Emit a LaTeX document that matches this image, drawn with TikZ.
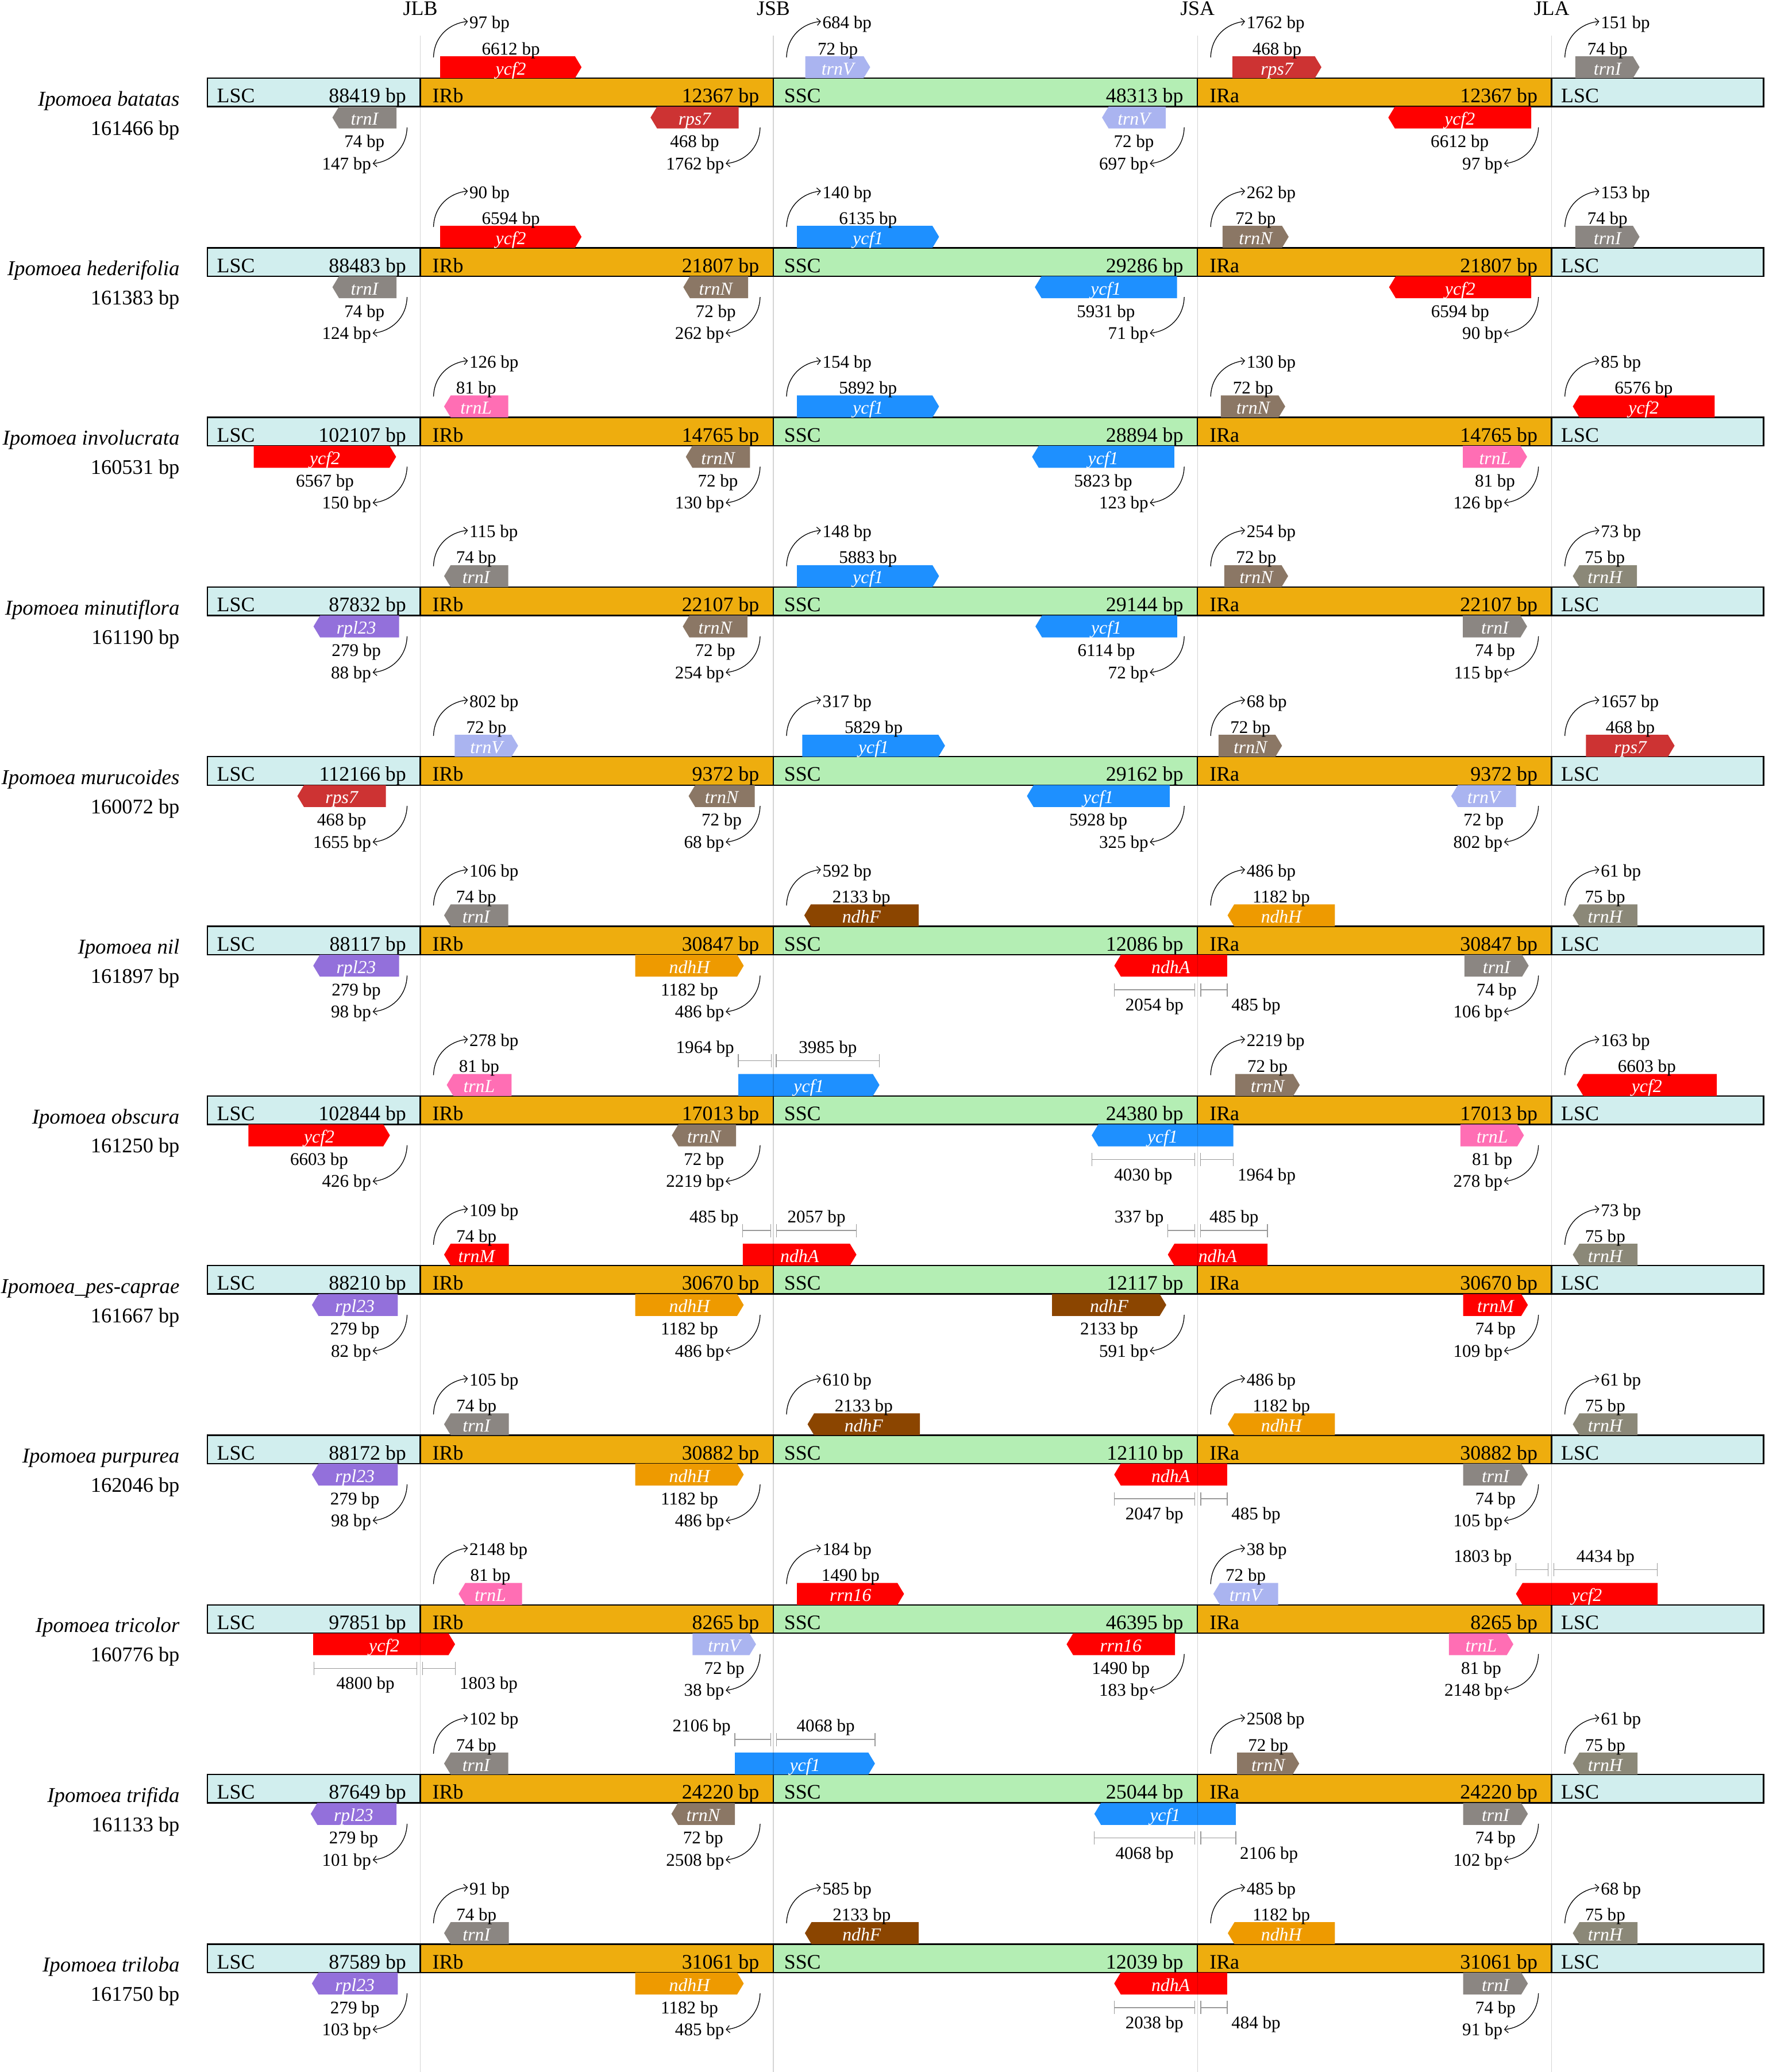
\documentclass[tikz,border=0pt]{standalone}
\usepackage{fontspec}
\setmainfont{Liberation Serif}
\usetikzlibrary{arrows.meta,calc}

\definecolor{lsc}{HTML}{D1EEEE}
\definecolor{irc}{HTML}{EEAD0E}
\definecolor{ssc}{HTML}{B4EEB4}
\definecolor{cycf2}{HTML}{FF0000}
\definecolor{crps7}{HTML}{CD3333}
\definecolor{ctrnI}{HTML}{8B8682}
\definecolor{ctrnH}{HTML}{8B8878}
\definecolor{ctrnV}{HTML}{AAB4F0}
\definecolor{ctrnN}{HTML}{8B7765}
\definecolor{cycf1}{HTML}{1E90FF}
\definecolor{ctrnL}{HTML}{FF6EB4}
\definecolor{crpl23}{HTML}{9370DB}
\definecolor{cndhH}{HTML}{EE9A00}
\definecolor{cndhF}{HTML}{8B4500}
\definecolor{cndhA}{HTML}{FF0000}
\definecolor{ctrnM}{HTML}{FF0000}
\definecolor{crrn}{HTML}{FF0000}

\def\JLB{318}
\def\JSB{585.1}
\def\JSA{906}
\def\JLA{1174}
\newcommand\yc{0}
\newcounter{nid}

\tikzset{
  lbl/.style={inner sep=0pt, font=\fontsize{13.5}{13.5}\selectfont},
  barlbl/.style={inner sep=0pt, font=\fontsize{15.6}{15.6}\selectfont},
  sp/.style={inner sep=0pt, font=\fontsize{16}{16}\selectfont\itshape},
  tot/.style={inner sep=0pt, font=\fontsize{15.8}{15.8}\selectfont},
  hdr/.style={inner sep=0pt, font=\fontsize{15.6}{15.6}\selectfont},
  gname/.style={inner sep=0pt, text=white, font=\fontsize{13.8}{13.8}\selectfont\itshape},
  carrow/.style={line width=0.55pt, -{Straight Barb[length=2.6pt,width=5.5pt]}},
  brkline/.style={draw=black!40, line width=0.55pt},
  guide/.style={draw=black, opacity=0.17, line width=0.5pt},
  barline/.style={draw=black, line width=1.05pt},
}

% gene shape: #1 x1, #2 x2, #3 ytop, #4 ybot, #5 dir, #6 colour
\newcommand\gshape[6]{%
  \if#5R
    \fill[#6] (#1,#3) -- ({#2-5},#3) -- (#2,{(#3+#4)/2}) -- ({#2-5},#4) -- (#1,#4) -- cycle;
  \else
    \fill[#6] ({#1+5},#3) -- (#2,#3) -- (#2,#4) -- ({#1+5},#4) -- (#1,{(#3+#4)/2}) -- cycle;
  \fi}

% gene above the bar without size label
\newcommand\gAx[5]{%
  \stepcounter{nid}\edef\nn{\arabic{nid}}%
  \pgfmathsetmacro\gt{\yc-27.35}\pgfmathsetmacro\gb{\yc-10.75}%
  \gshape{#1}{#2}{\gt}{\gb}{#3}{#4}%
  \node[gname,anchor=base] (gn\nn) at ({(#1+#2)/2},{\gb-2.6}) {#5};}
\newcommand\gBx[5]{%
  \stepcounter{nid}\edef\nn{\arabic{nid}}%
  \pgfmathsetmacro\gt{\yc+10.75}\pgfmathsetmacro\gb{\yc+27.35}%
  \gshape{#1}{#2}{\gt}{\gb}{#3}{#4}%
  \node[gname,anchor=base] (gn\nn) at ({(#1+#2)/2},{\gb-2.6}) {#5};}
% gene with size label
\newcommand\gA[6]{\gAx{#1}{#2}{#3}{#4}{#5}%
  \node[lbl,anchor=base] (gs\nn) at ({(#1+#2)/2},{\yc-28.6}) {#6};}
\newcommand\gB[6]{\gBx{#1}{#2}{#3}{#4}{#5}%
  \node[lbl,anchor=base] (gs\nn) at ({(#1+#2)/2},{\yc+41.7}) {#6};}

% curved arrows at a junction
\newcommand\arA[2]{%
  \stepcounter{nid}\edef\nn{\arabic{nid}}%
  \coordinate (ac\nn) at ({#1+10},{\yc-26.5});
  \node[lbl,anchor=base west] (at\nn) at ({#1+37},{\yc-48.2}) {#2};
  \coordinate (ae\nn) at ([xshift=-1pt,yshift=5.5pt]at\nn.base west);
  \draw[carrow] (ac\nn) .. controls ($(ac\nn)+(0.5,-16)$) and ($(ae\nn)+(-14,1.5)$) .. (ae\nn);}
\newcommand\arB[2]{%
  \stepcounter{nid}\edef\nn{\arabic{nid}}%
  \coordinate (ac\nn) at ({#1-10},{\yc+26.5});
  \node[lbl,anchor=base east] (at\nn) at ({#1-37},{\yc+58.4}) {#2};
  \coordinate (ae\nn) at ([xshift=1pt,yshift=4.5pt]at\nn.base east);
  \draw[carrow] (ac\nn) .. controls ($(ac\nn)+(-0.5,16)$) and ($(ae\nn)+(14,-1.5)$) .. (ae\nn);}

% brackets: #1 x1, #2 x2, #3 y of line
\newcommand\brk[3]{%
  \draw[brkline] (#1,#3) -- (#2,#3) (#1,{#3-5}) -- (#1,{#3+5}) (#2,{#3-5}) -- (#2,{#3+5});}
% above brackets: #1 x1 #2 x2 #3 label placement (c/l/r) #4 text
\newcommand\brA[4]{%
  \stepcounter{nid}\edef\nn{\arabic{nid}}%
  \brk{#1}{#2}{\yc-37.3}%
  \if#3c\node[lbl,anchor=base] (bl\nn) at ({(#1+#2)/2},{\yc-43.1}) {#4};\fi
  \if#3l\node[lbl,anchor=base east] (bl\nn) at ({#1-3},{\yc-43.1}) {#4};\fi
  \if#3r\node[lbl,anchor=base west] (bl\nn) at ({#2+3},{\yc-43.1}) {#4};\fi}
\newcommand\brB[4]{%
  \stepcounter{nid}\edef\nn{\arabic{nid}}%
  \brk{#1}{#2}{\yc+37.3}%
  \if#3c\node[lbl,anchor=base] (bl\nn) at ({(#1+#2)/2},{\yc+53.2}) {#4};\fi
  \if#3l\node[lbl,anchor=base east] (bl\nn) at ({#1-3},{\yc+53.2}) {#4};\fi
  \if#3r\node[lbl,anchor=base west] (bl\nn) at ({#2+3},{\yc+53.2}) {#4};\fi}

% row bar: #1 yc, #2 species, #3 total, #4 LSC, #5 IR, #6 SSC, #7 id
\newcommand\rowbar[7]{%
  \def\yc{#1}%
  \pgfmathsetmacro\bt{#1-10.75}\pgfmathsetmacro\bb{#1+10.75}%
  \fill[lsc] (157,\bt) rectangle (\JLB,\bb);
  \fill[irc] (\JLB,\bt) rectangle (\JSB,\bb);
  \fill[ssc] (\JSB,\bt) rectangle (\JSA,\bb);
  \fill[irc] (\JSA,\bt) rectangle (\JLA,\bb);
  \fill[lsc] (\JLA,\bt) rectangle (1334.4,\bb);
  \draw[barline] (157,\bt) rectangle (1334.4,\bb);
  \draw[barline] (\JLB,\bt) -- (\JLB,\bb) (\JSB,\bt) -- (\JSB,\bb) (\JSA,\bt) -- (\JSA,\bb) (\JLA,\bt) -- (\JLA,\bb);
  \node[sp,anchor=base east] (sp#7) at (136,{#1+10.2}) {#2};
  \node[tot,anchor=base east] (tl#7) at (136,{#1+32.3}) {#3};
  \node[barlbl,anchor=base west] (l1#7) at (164,{#1+7.8}) {LSC};
  \node[barlbl,anchor=base east] (v1#7) at ({\JLB-10.5},{#1+7.8}) {#4 bp};
  \node[barlbl,anchor=base west] (l2#7) at ({\JLB+9},{#1+7.8}) {IRb};
  \node[barlbl,anchor=base east] (v2#7) at ({\JSB-10.5},{#1+7.8}) {#5 bp};
  \node[barlbl,anchor=base west] (l3#7) at ({\JSB+8},{#1+7.8}) {SSC};
  \node[barlbl,anchor=base east] (v3#7) at ({\JSA-10.5},{#1+7.8}) {#6 bp};
  \node[barlbl,anchor=base west] (l4#7) at ({\JSA+9},{#1+7.8}) {IRa};
  \node[barlbl,anchor=base east] (v4#7) at ({\JLA-10.5},{#1+7.8}) {#5 bp};
  \node[barlbl,anchor=base west] (l5#7) at ({\JLA+7},{#1+7.8}) {LSC};}

\begin{document}
\begin{tikzpicture}[x=1pt,y=-1pt]
\useasboundingbox (0,0) rectangle (1335,1568);
\fill[white] (0,0) rectangle (1335,1568);

\node[hdr,anchor=base] (hJLB) at (\JLB,11.5) {JLB};
\node[hdr,anchor=base] (hJSB) at (\JSB,11.5) {JSB};
\node[hdr,anchor=base] (hJSA) at (\JSA,11.5) {JSA};
\node[hdr,anchor=base] (hJLA) at (\JLA,11.5) {JLA};

% ---------- row 1
\rowbar{69.9}{Ipomoea batatas}{161466 bp}{88419}{12367}{48313}{r1}
\gA{333}{440}{R}{cycf2}{ycf2}{6612 bp} \arA{\JLB}{97 bp}
\gA{609.3}{658.4}{R}{ctrnV}{trnV}{72 bp} \arA{\JSB}{684 bp}
\gA{932.5}{999.8}{R}{crps7}{rps7}{468 bp} \arA{\JSA}{1762 bp}
\gA{1191.9}{1240.5}{R}{ctrnI}{trnI}{74 bp} \arA{\JLA}{151 bp}
\gB{251.5}{300}{L}{ctrnI}{trnI}{74 bp} \arB{\JLB}{147 bp}
\gB{492.2}{558.9}{L}{crps7}{rps7}{468 bp} \arB{\JSB}{1762 bp}
\gB{833.8}{882}{L}{ctrnV}{trnV}{72 bp} \arB{\JSA}{697 bp}
\gB{1050.4}{1158.5}{L}{cycf2}{ycf2}{6612 bp} \arB{\JLA}{97 bp}

% ---------- row 2
\rowbar{198.27}{Ipomoea hederifolia}{161383 bp}{88483}{21807}{29286}{r2}
\gA{333}{440}{R}{cycf2}{ycf2}{6594 bp} \arA{\JLB}{90 bp}
\gA{603}{710.5}{R}{cycf1}{ycf1}{6135 bp} \arA{\JSB}{140 bp}
\gA{925}{975}{R}{ctrnN}{trnN}{72 bp} \arA{\JSA}{262 bp}
\gA{1191.9}{1240.5}{R}{ctrnI}{trnI}{74 bp} \arA{\JLA}{153 bp}
\gB{251.5}{300}{L}{ctrnI}{trnI}{74 bp} \arB{\JLB}{124 bp}
\gB{517}{566}{L}{ctrnN}{trnN}{72 bp} \arB{\JSB}{262 bp}
\gB{783}{890.5}{L}{cycf1}{ycf1}{5931 bp} \arB{\JSA}{71 bp}
\gB{1051}{1158.5}{L}{cycf2}{ycf2}{6594 bp} \arB{\JLA}{90 bp}

% ---------- row 3
\rowbar{326.64}{Ipomoea involucrata}{160531 bp}{102107}{14765}{28894}{r3}
\gA{336}{384.5}{L}{ctrnL}{trnL}{81 bp} \arA{\JLB}{126 bp}
\gA{603}{710.5}{R}{cycf1}{ycf1}{5892 bp} \arA{\JSB}{154 bp}
\gA{923.7}{972.4}{R}{ctrnN}{trnN}{72 bp} \arA{\JSA}{130 bp}
\gA{1190}{1297.3}{L}{cycf2}{ycf2}{6576 bp} \arA{\JLA}{85 bp}
\gB{192}{299.7}{R}{cycf2}{ycf2}{6567 bp} \arB{\JLB}{150 bp}
\gB{518.9}{567.5}{L}{ctrnN}{trnN}{72 bp} \arB{\JSB}{130 bp}
\gB{780.9}{888.5}{L}{cycf1}{ycf1}{5823 bp} \arB{\JSA}{123 bp}
\gB{1106.8}{1155.4}{R}{ctrnL}{trnL}{81 bp} \arB{\JLA}{126 bp}

% ---------- row 4
\rowbar{455.01}{Ipomoea minutiflora}{161190 bp}{87832}{22107}{29144}{r4}
\gA{336}{384.5}{L}{ctrnI}{trnI}{74 bp} \arA{\JLB}{115 bp}
\gA{603}{710.5}{R}{cycf1}{ycf1}{5883 bp} \arA{\JSB}{148 bp}
\gA{926.3}{974.6}{R}{ctrnN}{trnN}{72 bp} \arA{\JSA}{254 bp}
\gA{1190}{1238.5}{L}{ctrnH}{trnH}{75 bp} \arA{\JLA}{73 bp}
\gB{237.2}{302}{L}{crpl23}{rpl23}{279 bp} \arB{\JLB}{88 bp}
\gB{516.6}{565.5}{L}{ctrnN}{trnN}{72 bp} \arB{\JSB}{254 bp}
\gB{783.4}{890.7}{L}{cycf1}{ycf1}{6114 bp} \arB{\JSA}{72 bp}
\gB{1106.8}{1155.4}{R}{ctrnI}{trnI}{74 bp} \arB{\JLA}{115 bp}

% ---------- row 5
\rowbar{583.38}{Ipomoea murucoides}{160072 bp}{112166}{9372}{29162}{r5}
\gA{344}{392}{R}{ctrnV}{trnV}{72 bp} \arA{\JLB}{802 bp}
\gA{607}{715}{R}{cycf1}{ycf1}{5829 bp} \arA{\JSB}{317 bp}
\gA{922}{970}{R}{ctrnN}{trnN}{72 bp} \arA{\JSA}{68 bp}
\gA{1200}{1267}{R}{crps7}{rps7}{468 bp} \arA{\JLA}{1657 bp}
\gB{225}{292}{L}{crps7}{rps7}{468 bp} \arB{\JLB}{1655 bp}
\gB{521}{571}{L}{ctrnN}{trnN}{72 bp} \arB{\JSB}{68 bp}
\gB{777}{885}{L}{cycf1}{ycf1}{5928 bp} \arB{\JSA}{325 bp}
\gB{1098}{1147}{L}{ctrnV}{trnV}{72 bp} \arB{\JLA}{802 bp}

% ---------- row 6
\rowbar{711.75}{Ipomoea nil}{161897 bp}{88117}{30847}{12086}{r6}
\gA{336}{384.5}{L}{ctrnI}{trnI}{74 bp} \arA{\JLB}{106 bp}
\gA{608.5}{695}{L}{cndhF}{ndhF}{2133 bp} \arA{\JSB}{592 bp}
\gA{928.8}{1010}{L}{cndhH}{ndhH}{1182 bp} \arA{\JSA}{486 bp}
\gA{1190}{1238.8}{L}{ctrnH}{trnH}{75 bp} \arA{\JLA}{61 bp}
\gB{237}{302}{L}{crpl23}{rpl23}{279 bp} \arB{\JLB}{98 bp}
\gB{480.6}{562.7}{R}{cndhH}{ndhH}{1182 bp} \arB{\JSB}{486 bp}
\gBx{843.1}{928.5}{L}{cndhA}{ndhA}
\brB{843.1}{903.9}{c}{2054 bp} \brB{908.5}{928.5}{r}{485 bp}
\gB{1108}{1156.6}{R}{ctrnI}{trnI}{74 bp} \arB{\JLA}{106 bp}

% ---------- row 7
\rowbar{840.12}{Ipomoea obscura}{161250 bp}{102844}{17013}{24380}{r7}
\gA{338}{387}{L}{ctrnL}{trnL}{81 bp} \arA{\JLB}{278 bp}
\gAx{558.6}{665.4}{R}{cycf1}{ycf1}
\brA{558.6}{583.5}{l}{1964 bp} \brA{587.3}{665.4}{c}{3985 bp}
\gA{934.6}{983.4}{R}{ctrnN}{trnN}{72 bp} \arA{\JSA}{2219 bp}
\gA{1193}{1299}{L}{cycf2}{ycf2}{6603 bp} \arA{\JLA}{163 bp}
\gB{188}{295}{R}{cycf2}{ycf2}{6603 bp} \arB{\JLB}{426 bp}
\gB{508.3}{556.9}{L}{ctrnN}{trnN}{72 bp} \arB{\JSB}{2219 bp}
\gBx{826}{933.2}{L}{cycf1}{ycf1}
\brB{826}{904}{c}{4030 bp} \brB{908.3}{933.2}{r}{1964 bp}
\gB{1105}{1153}{R}{ctrnL}{trnL}{81 bp} \arB{\JLA}{278 bp}

% ---------- row 8
\rowbar{968.49}{Ipomoea\_pes-caprae}{161667 bp}{88210}{30670}{12117}{r8}
\gA{336}{385}{L}{ctrnM}{trnM}{74 bp} \arA{\JLB}{109 bp}
\gAx{562}{648}{R}{cndhA}{ndhA}
\brA{562}{583}{l}{485 bp} \brA{587.5}{648}{c}{2057 bp}
\gAx{883.6}{959}{L}{cndhA}{ndhA}
\brA{883.6}{903.9}{l}{337 bp} \brA{908.3}{959}{c}{485 bp}
\gA{1190}{1239}{L}{ctrnH}{trnH}{75 bp} \arA{\JLA}{73 bp}
\gB{236}{301}{L}{crpl23}{rpl23}{279 bp} \arB{\JLB}{82 bp}
\gB{480.6}{562.7}{R}{cndhH}{ndhH}{1182 bp} \arB{\JSB}{486 bp}
\gB{796}{882.4}{R}{cndhF}{ndhF}{2133 bp} \arB{\JSA}{591 bp}
\gB{1107}{1156}{R}{ctrnM}{trnM}{74 bp} \arB{\JLA}{109 bp}

% ---------- row 9
\rowbar{1096.86}{Ipomoea purpurea}{162046 bp}{88172}{30882}{12110}{r9}
\gA{336}{385}{L}{ctrnI}{trnI}{74 bp} \arA{\JLB}{105 bp}
\gA{611}{696}{L}{cndhF}{ndhF}{2133 bp} \arA{\JSB}{610 bp}
\gA{929}{1010}{L}{cndhH}{ndhH}{1182 bp} \arA{\JSA}{486 bp}
\gA{1190}{1239}{L}{ctrnH}{trnH}{75 bp} \arA{\JLA}{61 bp}
\gB{236}{301}{L}{crpl23}{rpl23}{279 bp} \arB{\JLB}{98 bp}
\gB{480.6}{562.7}{R}{cndhH}{ndhH}{1182 bp} \arB{\JSB}{486 bp}
\gBx{843}{928.5}{L}{cndhA}{ndhA}
\brB{843}{903.9}{c}{2047 bp} \brB{908.5}{928.5}{r}{485 bp}
\gB{1107}{1156}{R}{ctrnI}{trnI}{74 bp} \arB{\JLA}{105 bp}

% ---------- row 10
\rowbar{1225.23}{Ipomoea tricolor}{160776 bp}{97851}{8265}{46395}{r10}
\gA{347}{395}{L}{ctrnL}{trnL}{81 bp} \arA{\JLB}{2148 bp}
\gA{603}{684}{R}{crrn}{rrn16}{1490 bp} \arA{\JSB}{184 bp}
\gA{918}{967}{L}{ctrnV}{trnV}{72 bp} \arA{\JSA}{38 bp}
\gAx{1147}{1254.2}{L}{cycf2}{ycf2}
\brA{1147}{1171.4}{l}{1803 bp} \brA{1175.7}{1253.8}{c}{4434 bp}
\gBx{237}{344.3}{R}{cycf2}{ycf2}
\brB{237.6}{315.5}{c}{4800 bp} \brB{319.7}{344.6}{r}{1803 bp}
\gB{524}{572}{R}{ctrnV}{trnV}{72 bp} \arB{\JSB}{38 bp}
\gB{807}{889}{L}{crrn}{rrn16}{1490 bp} \arB{\JSA}{183 bp}
\gB{1096.3}{1145}{R}{ctrnL}{trnL}{81 bp} \arB{\JLA}{2148 bp}

% ---------- row 11
\rowbar{1353.6}{Ipomoea trifida}{161133 bp}{87649}{24220}{25044}{r11}
\gA{336}{384.5}{L}{ctrnI}{trnI}{74 bp} \arA{\JLB}{102 bp}
\gAx{556}{662}{R}{cycf1}{ycf1}
\brA{556}{583}{l}{2106 bp} \brA{587.5}{662}{c}{4068 bp}
\gA{936}{983}{R}{ctrnN}{trnN}{72 bp} \arA{\JSA}{2508 bp}
\gA{1190}{1239}{L}{ctrnH}{trnH}{75 bp} \arA{\JLA}{61 bp}
\gB{235.1}{300}{L}{crpl23}{rpl23}{279 bp} \arB{\JLB}{101 bp}
\gB{508}{556}{L}{ctrnN}{trnN}{72 bp} \arB{\JSB}{2508 bp}
\gBx{828}{935}{L}{cycf1}{ycf1}
\brB{828}{904}{c}{4068 bp} \brB{908.5}{935}{r}{2106 bp}
\gB{1107}{1156}{R}{ctrnI}{trnI}{74 bp} \arB{\JLA}{102 bp}

% ---------- row 12
\rowbar{1481.97}{Ipomoea triloba}{161750 bp}{87589}{31061}{12039}{r12}
\gA{336}{385}{L}{ctrnI}{trnI}{74 bp} \arA{\JLB}{91 bp}
\gA{609}{695}{L}{cndhF}{ndhF}{2133 bp} \arA{\JSB}{585 bp}
\gA{929}{1010}{L}{cndhH}{ndhH}{1182 bp} \arA{\JSA}{485 bp}
\gA{1190}{1239}{L}{ctrnH}{trnH}{75 bp} \arA{\JLA}{68 bp}
\gB{236}{301}{L}{crpl23}{rpl23}{279 bp} \arB{\JLB}{103 bp}
\gB{480.6}{562.7}{R}{cndhH}{ndhH}{1182 bp} \arB{\JSB}{485 bp}
\gBx{843}{928.5}{L}{cndhA}{ndhA}
\brB{843}{903.9}{c}{2038 bp} \brB{908.5}{928.5}{r}{484 bp}
\gB{1107}{1156}{R}{ctrnI}{trnI}{74 bp} \arB{\JLA}{91 bp}

% ---------- junction guide lines
\draw[guide] (\JLB,27) -- (\JLB,1568);
\draw[guide] (\JSB,27) -- (\JSB,1568);
\draw[guide] (\JSA,27) -- (\JSA,1568);
\draw[guide] (\JLA,27) -- (\JLA,1568);
\end{tikzpicture}
\end{document}
